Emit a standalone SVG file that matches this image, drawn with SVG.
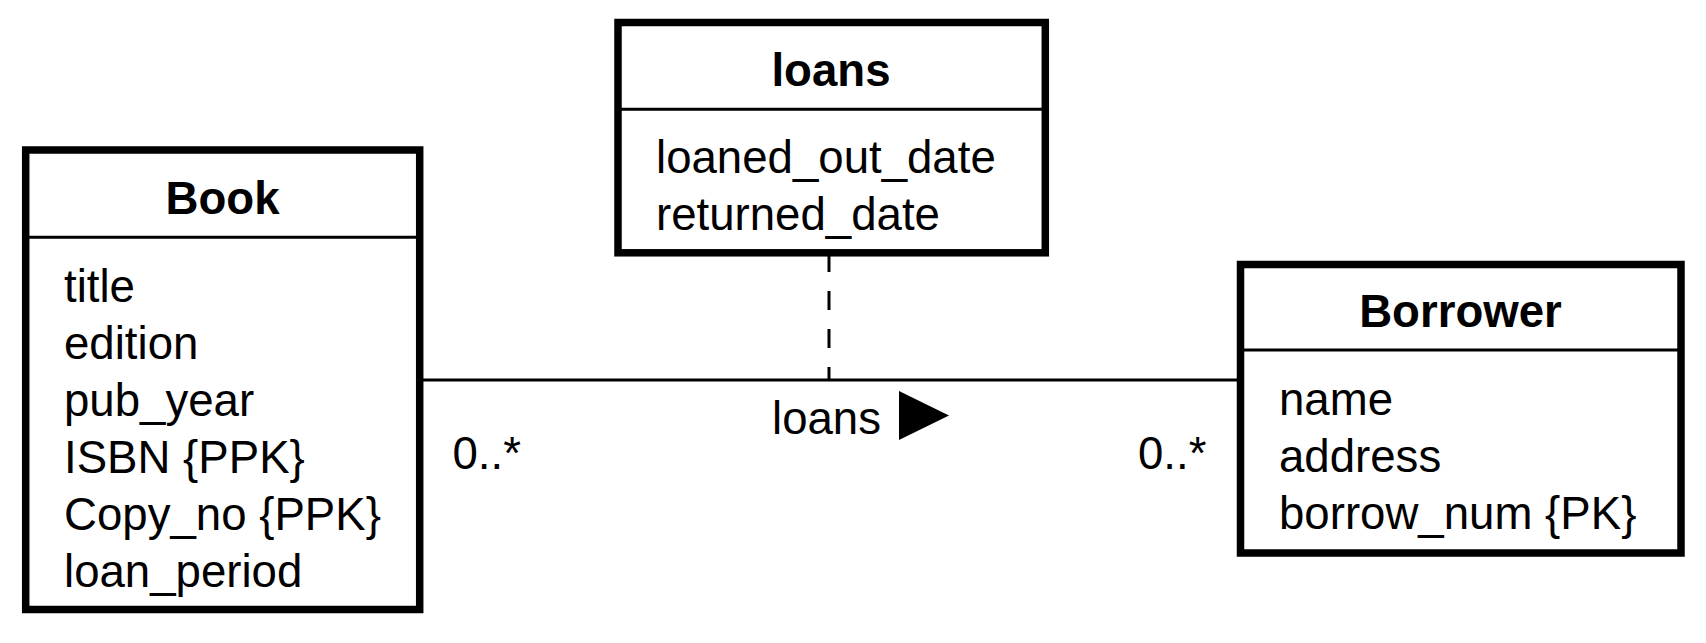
<svg xmlns="http://www.w3.org/2000/svg" width="1706" height="643" viewBox="0 0 1706 643">
<style>
.box{fill:#fff;stroke:#000;stroke-width:7.5}
.div{stroke:#000;stroke-width:3}
text{font-family:"Liberation Sans",Arial,sans-serif;font-size:45.6px;fill:#000}
.title{font-weight:bold;text-anchor:middle}
.line{stroke:#000;stroke-width:3;fill:none}
.dash{stroke:#000;stroke-width:3;fill:none;stroke-dasharray:19 19}
</style>
<rect width="1706" height="643" fill="#fff"/>
<g id="connectors">
<line class="line" x1="420" y1="380" x2="1240" y2="380"/>
<line class="dash" x1="829" y1="253" x2="829" y2="380"/>
<text x="772" y="434">loans</text>
<polygon points="899,391 949,415.5 899,440" fill="#000"/>
<text x="452.5" y="469">0..*</text>
<text x="1138" y="469">0..*</text>
</g>
<g id="book">
<rect class="box" x="25.7" y="150" width="394" height="459.5"/>
<line class="div" x1="25.7" y1="237.3" x2="419.7" y2="237.3"/>
<text class="title" x="222.5" y="214">Book</text>
<text x="64" y="301.7">title</text>
<text x="64" y="358.7">edition</text>
<text x="64" y="415.7">pub_year</text>
<text x="64" y="472.7">ISBN {PPK}</text>
<text x="64" y="529.7">Copy_no {PPK}</text>
<text x="64" y="586.7">loan_period</text>
</g>
<g id="loans">
<rect class="box" x="618" y="22.5" width="427.3" height="230.3"/>
<line class="div" x1="618" y1="109.3" x2="1045.3" y2="109.3"/>
<text class="title" x="831" y="86">loans</text>
<text x="656" y="172.7">loaned_out_date</text>
<text x="656" y="229.7">returned_date</text>
</g>
<g id="borrower">
<rect class="box" x="1240.5" y="264.5" width="440.5" height="288.5"/>
<line class="div" x1="1240.5" y1="350" x2="1681" y2="350"/>
<text class="title" x="1460.5" y="327.3">Borrower</text>
<text x="1279" y="415">name</text>
<text x="1279" y="472">address</text>
<text x="1279" y="529">borrow_num {PK}</text>
</g>
</svg>
